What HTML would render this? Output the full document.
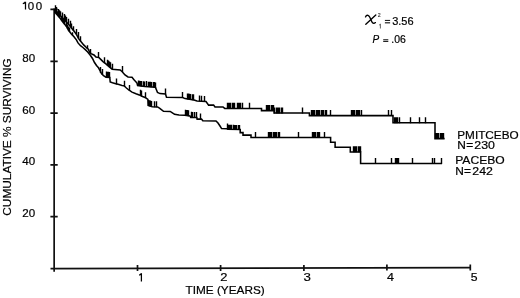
<!DOCTYPE html>
<html><head><meta charset="utf-8"><style>
html,body{margin:0;padding:0;background:#fff;width:520px;height:298px;overflow:hidden}
svg{display:block;will-change:transform}
text{font-family:"Liberation Sans",sans-serif;fill:#000;stroke:#000;stroke-width:0.2px}
</style></head><body>
<svg width="520" height="298" viewBox="0 0 520 298">
<g stroke="#111" fill="none" stroke-width="1.7">
<path d="M54.15 8.6V271.8"/>
<path d="M50.5 268.55L470.3 267.6"/>
<path d="M50.4 9.3H57.7M50.4 61.4H57.7M50.4 113.2H57.7M50.4 164.8H57.7M50.4 216.7H57.7"/>
<path d="M137.5 265V271M220.6 265V271M303.9 265V271M386.9 264.6V270.6M470.3 264.6V270.6"/>
</g>
<g stroke="#000" fill="none" stroke-width="1.55" stroke-linejoin="miter">
<polyline points="54.5,9.3 55,12 57,12.8 60,15.2 62.5,17.8 64,19.6 66,21.5 68,23.7 70,26 72.5,29.3 74.5,31.8 76.4,34.3 78.8,38.9 81.3,42.1 83.7,44.9 86.1,47.3 88.5,49.4 89.5,52 91,53.6 94,55 96,57 99,57.6 101,59.6 103,61.6 105.6,63.6 109.7,67.2 112.2,69.2 120.2,70 122.2,71.7 125,75 128,77 132,77.3 134,79.7 137,83 137.6,85.5 145,86.4 155.4,87.2 156.5,90 157.5,92.5 160,93.6 165.5,94 166.5,97.3 182.7,97.6 185,98.6 194,100 197,101 206,101.6 208.6,105.1 213.6,105.1 215,107 223,107 224.7,108.4 261.5,108.4 261.5,110.6 274.1,110.6 274.1,113 309.4,113 309.4,115.6 393,115.6 393,122.8 435,122.8 435,138.6 444.6,138.6"/>
<polyline points="54.5,9.3 55,12.5 57,14.5 58.7,16.5 60.7,19 62.7,21.8 64.7,24.2 66.7,26.8 68.7,30.6 71.4,34 74,36.8 76.4,39.9 78,42.9 80.5,45.7 82.9,47.5 85.3,49.6 87.7,52 89.3,54 90.5,55.5 92.5,58.5 94.5,62.5 96.5,65.5 98.5,67.8 100,70.5 101.5,73.5 103.5,75.7 106,77.2 109.8,77.5 110.2,82 112.5,82.8 115,83.5 119,84.6 122,85.5 124,85.8 126.4,88 128.8,90 132,92.1 136,93.7 139.3,94.9 142.5,96.5 145.2,97.5 147.9,99.5 148.2,105.5 152.2,106.8 157.6,106.9 159.8,108.3 163.5,111.3 170.2,111.4 172.4,112.8 174.6,114.3 179,115 184.7,115.3 190,116 190.7,117.4 196.8,117.6 197.1,119.1 201.5,119.1 202.8,120.8 216,121 218,123 220,126 221.6,128.6 227,128.8 228,129.3 240.2,129.4 240.2,132.6 243,132.6 243,135.1 251,135.1 251,137.5 330.6,137.5 330.6,142.3 335.1,142.3 335.1,147.2 350.3,147.2 350.3,151.9 360.6,151.9 360.6,163.5 442,163.5"/>
</g>
<g stroke="#000" fill="none" stroke-width="1.4">
<path d="M55.5 12.5v-7.2M56.5 13.0v-5.9M58.5 14.0v-4.9M59.5 15.2v-4.9M60.5 16.6v-5.4M62.5 18.2v-5.7M64.5 20.0v-5.9M65.5 21.4v-5.9M66.5 23.0v-5.9M68.5 24.7v-5.9M70.5 26.4v-5.7M71.5 28.4v-4.9M73.5 30.9v-4.6M76.5 34.7v-5.6M78.5 38.5v-6.4M80.5 41.5v-5.2M87.5 49.1v-3.9M90.5 53.5v-4.6M98.5 58.0v-6.0M104.5 63.2v-6.0M107.5 65.7v-6.0M108.5 66.5v-6.0M109.5 67.4v-6.0M110.5 68.2v-6.0M112.5 69.7v-6.0M122.5 71.9v-6.0M138.5 86.0v-5.4M139.5 86.1v-5.4M140.5 86.3v-5.4M141.5 86.4v-5.4M143.5 86.6v-5.4M144.5 86.8v-5.2M146.5 86.9v-6.0M148.5 87.1v-5.4M149.5 87.1v-5.4M150.5 87.2v-5.4M151.5 87.3v-5.4M153.5 87.5v-5.4M154.5 87.5v-5.4M155.5 87.9v-5.4M165.5 94.4v-6.0M182.5 98.0v-6.0M187.5 99.4v-6.0M188.5 99.5v-6.0M189.5 99.7v-6.0M190.5 99.9v-6.0M192.5 100.2v-6.0M193.5 100.3v-6.0M199.5 101.6v-6.0M201.5 101.7v-6.0M204.5 101.9v-6.0M227.5 108.8v-6.0M228.5 108.8v-6.0M229.5 108.8v-6.0M230.5 108.8v-6.0M232.5 108.8v-6.0M233.5 108.8v-6.0M234.5 108.8v-6.0M237.5 108.8v-6.0M238.5 108.8v-6.0M239.5 108.8v-6.0M240.5 108.8v-6.0M242.5 108.8v-6.0M249.5 108.8v-6.0M266.5 111.0v-6.0M267.5 111.0v-6.0M268.5 111.0v-6.0M269.5 111.0v-6.0M271.5 111.0v-6.0M272.5 111.0v-6.0M273.5 111.0v-6.0M274.5 113.4v-6.0M276.5 113.4v-6.0M277.5 113.4v-6.0M278.5 113.4v-6.0M279.5 113.4v-6.0M281.5 113.4v-6.0M282.5 113.4v-6.0M302.5 113.4v-6.0M311.5 116.0v-6.0M312.5 116.0v-6.0M313.5 116.0v-6.0M314.5 116.0v-6.0M316.5 116.0v-6.0M317.5 116.0v-6.0M318.5 116.0v-6.0M319.5 116.0v-6.0M321.5 116.0v-6.0M322.5 116.0v-6.0M323.5 116.0v-6.0M325.5 116.0v-6.0M326.5 116.0v-6.0M330.5 116.0v-6.0M351.5 116.0v-6.0M352.5 116.0v-6.0M353.5 116.0v-6.0M354.5 116.0v-6.0M356.5 116.0v-6.0M357.5 116.0v-6.0M358.5 116.0v-6.0M359.5 116.0v-6.0M361.5 116.0v-6.0M388.5 116.0v-6.0M391.5 116.0v-6.0M394.5 123.2v-6.0M395.5 123.2v-6.0M396.5 123.2v-6.0M397.5 123.2v-6.0M399.5 123.2v-6.0M410.5 123.2v-6.0M419.5 123.2v-6.0M425.5 123.2v-6.0M435.5 139.0v-6.0M436.5 139.0v-6.0M437.5 139.0v-6.0M438.5 139.0v-6.0M440.5 139.0v-6.0M441.5 139.0v-6.0M442.5 139.0v-6.0M443.5 139.0v-6.0"/>
<path d="M56.5 14.4v-4.2M57.5 15.5v-4.2M58.5 16.7v-4.2M59.5 17.9v-4.2M61.5 20.5v-4.2M62.5 21.9v-4.2M63.5 23.2v-4.2M64.5 24.4v-4.2M66.5 26.9v-4.2M67.5 28.7v-4.2M68.5 30.6v-4.2M69.5 32.0v-4.4M72.5 35.6v-3.4M100.5 72.9v-6.0M102.5 75.1v-6.0M106.5 77.6v-6.0M107.5 77.7v-6.0M108.5 77.8v-6.0M109.5 77.9v-6.0M116.5 84.4v-6.0M124.5 86.7v-6.0M129.5 90.9v-6.0M140.5 95.7v-6.0M141.5 96.4v-6.0M145.5 98.3v-6.0M148.5 106.0v-6.0M149.5 106.3v-6.0M150.5 106.6v-6.0M151.5 107.0v-6.0M154.5 107.2v-6.0M156.5 107.3v-6.0M185.5 115.8v-6.0M186.5 115.9v-6.0M187.5 116.1v-6.0M188.5 116.2v-6.0M191.5 117.8v-6.0M192.5 117.9v-6.0M194.5 117.9v-6.0M196.5 118.0v-6.0M200.5 119.5v-6.0M227.5 129.6v-6.0M228.5 129.7v-4.9M229.5 129.7v-4.9M230.5 129.7v-4.9M231.5 129.7v-4.9M233.5 129.7v-4.9M234.5 129.8v-4.9M235.5 129.8v-4.9M236.5 129.8v-4.9M238.5 129.8v-4.9M239.5 129.8v-4.9M255.5 137.9v-6.0M268.5 137.9v-6.0M269.5 137.9v-6.0M270.5 137.9v-6.0M271.5 137.9v-6.0M273.5 137.9v-6.0M274.5 137.9v-6.0M275.5 137.9v-6.0M276.5 137.9v-6.0M278.5 137.9v-6.0M279.5 137.9v-6.0M298.5 137.9v-6.0M312.5 137.9v-6.0M313.5 137.9v-6.0M314.5 137.9v-6.0M315.5 137.9v-6.0M317.5 137.9v-6.0M318.5 137.9v-6.0M319.5 137.9v-6.0M324.5 137.9v-6.0M353.5 152.3v-6.0M354.5 152.3v-6.0M355.5 152.3v-6.0M356.5 152.3v-6.0M358.5 152.3v-6.0M359.5 152.3v-6.0M360.5 152.3v-6.0M375.5 163.9v-6.0M391.5 163.9v-6.0M395.5 163.9v-6.0M396.5 163.9v-6.0M397.5 163.9v-6.0M398.5 163.9v-6.0M412.5 163.9v-6.0M432.5 163.9v-6.0M434.5 163.9v-6.0M441.5 163.9v-6.0"/>
</g>
<g font-size="11">
<text x="27.8" y="9.6" textLength="6.4" lengthAdjust="spacingAndGlyphs">0</text>
<text x="35.8" y="9.6" textLength="6.4" lengthAdjust="spacingAndGlyphs">0</text>
<text x="22.3" y="61.5" textLength="12.9" lengthAdjust="spacingAndGlyphs">80</text>
<text x="22.3" y="113.7" textLength="12.9" lengthAdjust="spacingAndGlyphs">60</text>
<text x="22.3" y="165" textLength="12.9" lengthAdjust="spacingAndGlyphs">40</text>
<text x="22.3" y="216.9" textLength="12.9" lengthAdjust="spacingAndGlyphs">20</text>
<g font-size="11.5">
<text x="220.3" y="281" textLength="7.2" lengthAdjust="spacingAndGlyphs">2</text>
<text x="303.4" y="281" textLength="7.4" lengthAdjust="spacingAndGlyphs">3</text>
<text x="386.9" y="280.8" textLength="7" lengthAdjust="spacingAndGlyphs">4</text>
<text x="470.8" y="280.7" textLength="6.8" lengthAdjust="spacingAndGlyphs">5</text>
</g>
<text x="185.5" y="294.4" textLength="79.2" lengthAdjust="spacingAndGlyphs">TIME (YEARS)</text>
<text transform="translate(10.6 215.7) rotate(-90)" textLength="157.5" lengthAdjust="spacingAndGlyphs">CUMULATIVE % SURVIVING</text>
<text x="457.3" y="138.75" textLength="61.3" lengthAdjust="spacingAndGlyphs">PMITCEBO</text>
<text x="457.2" y="148.75" textLength="8.6" lengthAdjust="spacingAndGlyphs">N</text>
<text x="466.2" y="148.75" textLength="7" lengthAdjust="spacingAndGlyphs">=</text>
<text x="474.3" y="148.75" textLength="20.6" lengthAdjust="spacingAndGlyphs">230</text>
<text x="455.2" y="163.6" textLength="49.5" lengthAdjust="spacingAndGlyphs">PACEBO</text>
<text x="455.2" y="174.9" textLength="8.6" lengthAdjust="spacingAndGlyphs">N</text>
<text x="464.1" y="174.9" textLength="7" lengthAdjust="spacingAndGlyphs">=</text>
<text x="472.3" y="174.9" textLength="20.6" lengthAdjust="spacingAndGlyphs">242</text>
<text x="392.2" y="24.6">3.56</text>
<text x="372.6" y="42.6" font-size="10" font-style="italic">P</text>
<text x="391.3" y="42.6" font-size="10" textLength="14.5" lengthAdjust="spacingAndGlyphs">.06</text>
<text x="377.8" y="17.3" font-size="5.2" style="fill:#333;stroke:#333;stroke-width:0.15px">2</text>

</g>
<g fill="#222">
<rect x="384.9" y="19.9" width="5.2" height="1.1"/>
<rect x="384.9" y="22.2" width="5.2" height="1.2"/>
<rect x="383.2" y="39.2" width="5.1" height="1.1"/>
<rect x="383.2" y="40.9" width="5.1" height="1.1"/>
</g>
<g stroke="#000" fill="none" stroke-width="1.25">
<path d="M25.5 1.7V9.5M22.8 3.7C24 3.5 24.8 2.9 25.4 1.9"/>
<path d="M141.4 273.3V281.5M139.1 275.1C140.3 274.9 141 274.2 141.3 273.4"/>
</g>
<path d="M380.4 23.9V28.5M379.2 25.2C379.8 24.9 380.2 24.5 380.4 23.9" stroke="#555" stroke-width="0.9" fill="none"/>
<g stroke="#000" fill="none" stroke-width="1.35" stroke-linecap="round">
<path d="M365.5 16.9C366 15.6 367 15.1 368 15.3C369.5 15.7 370.3 18 371 20C371.7 22 372.6 23.3 373.8 23.4C374.5 23.4 375 23 375.4 22.6"/>
<path d="M375.8 15L365.8 24.3"/>
</g>
</svg>
</body></html>
